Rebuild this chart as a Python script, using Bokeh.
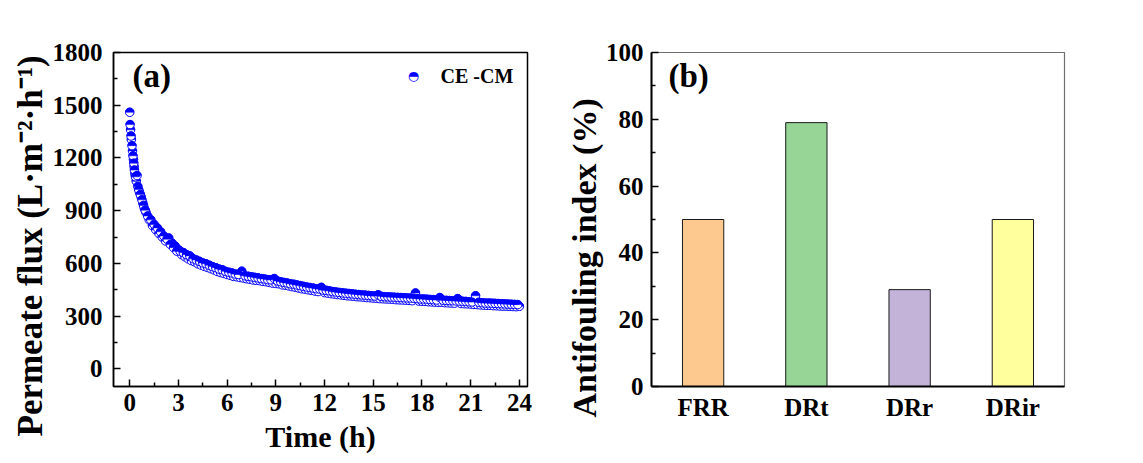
import numpy as np
from bokeh.plotting import figure
from bokeh.models import Range1d, FactorRange, FixedTicker, Label, ColumnDataSource, Title
from bokeh.layouts import row
from bokeh.embed import file_html
from bokeh.resources import INLINE

# ---------------- data: panel (a) permeate flux vs time ----------------
time_early_h = [0.00, 0.02, 0.05, 0.08, 0.10, 0.14, 0.17, 0.20, 0.23, 0.25, 0.27, 0.29, 0.32,
                0.35, 0.40, 0.45, 0.50, 0.55, 0.60, 0.65, 0.70, 0.75, 0.80, 0.85, 0.90, 0.95, 1.00]
flux_early = [1460, 1390, 1360, 1325, 1305, 1270, 1240, 1212, 1190, 1170, 1150, 1131, 1110,
              1093, 1068, 1100, 1038, 1020, 1005, 992, 979, 962, 945, 930, 912, 903, 890]

# t = 1.1 ... 24.0 h, every 0.1 h (one row per hour)
flux_late = [
    870, 848, 848, 815, 822, 792, 802, 770, 780, 750,
    756, 728, 738, 745, 708, 716, 690, 699, 670, 678,
    670, 650, 662, 638, 650, 626, 643, 616, 627, 609,
    620, 598, 612, 590, 603, 583, 598, 577, 590, 570,
    582, 563, 576, 554, 568, 548, 564, 543, 555, 537,
    550, 532, 546, 526, 540, 524, 537, 520, 556, 517,
    530, 513, 527, 510, 524, 506, 521, 504, 518, 502,
    514, 498, 512, 496, 508, 492, 507, 488, 514, 486,
    500, 484, 496, 478, 492, 476, 489, 472, 484, 468,
    482, 465, 478, 460, 474, 456, 470, 454, 466, 450,
    463, 447, 460, 443, 456, 440, 454, 464, 449, 434,
    447, 431, 444, 428, 440, 426, 438, 423, 435, 421,
    433, 419, 431, 416, 429, 415, 427, 413, 425, 411,
    423, 410, 421, 408, 420, 406, 418, 405, 416, 403,
    415, 402, 422, 400, 413, 399, 411, 398, 410, 397,
    409, 396, 408, 394, 407, 393, 406, 392, 405, 391,
    404, 390, 403, 388, 402, 432, 400, 386, 398, 385,
    398, 384, 397, 382, 395, 381, 394, 380, 392, 379,
    406, 379, 391, 377, 390, 376, 389, 375, 388, 374,
    387, 400, 386, 372, 385, 371, 384, 370, 382, 369,
    381, 367, 416, 366, 379, 364, 377, 363, 375, 362,
    375, 362, 374, 360, 373, 359, 372, 358, 371, 357,
    370, 357, 369, 356, 368, 355, 367, 354, 366, 356,
]
time_late_h = [round(1.1 + 0.1 * i, 2) for i in range(len(flux_late))]

series_name = "CE -CM"
x_title_a = "Time (h)"
y_title_a = "Permeate flux (L·m⁻²·h⁻¹)"
x_ticks_a = [0, 3, 6, 9, 12, 15, 18, 21, 24]
y_ticks_a = [0, 300, 600, 900, 1200, 1500, 1800]

# ---------------- data: panel (b) antifouling indices ----------------
categories = ["FRR", "DRt", "DRr", "DRir"]
index_values = [50, 79, 29, 50]
bar_colors = ["#fdc98e", "#96d596", "#c3b3d8", "#ffff9e"]
y_title_b = "Antifouling index (%)"
y_ticks_b = [0, 20, 40, 60, 80, 100]

FONT = "Liberation Serif"
BLUE = "#0000ff"
TICK_FS = "25px"
XLABEL_FS = "30px"


def style_axis(ax, width=1.5):
    ax.major_tick_in = 7
    ax.major_tick_out = 0
    ax.minor_tick_in = 4
    ax.minor_tick_out = 0
    ax.axis_line_width = width
    ax.axis_line_color = "black"
    ax.major_tick_line_width = 1.5
    ax.minor_tick_line_width = 1.5
    ax.major_tick_line_color = "black"
    ax.minor_tick_line_color = "black"
    ax.major_label_text_font = FONT
    ax.major_label_text_font_style = "bold"
    ax.major_label_text_font_size = TICK_FS
    ax.major_label_text_color = "black"
    ax.axis_label_text_font = FONT
    ax.axis_label_text_font_style = "bold"
    ax.axis_label_text_color = "black"


def text_label(x, y, text, size, font=FONT, color="black", align="left", bold=True):
    return Label(x=x, y=y, x_units="screen", y_units="screen", text=text,
                 text_font=font, text_font_style="bold" if bold else "normal",
                 text_font_size=size, text_baseline="middle", text_align=align,
                 text_color=color)


def side_title(text, offset, size):
    # vertical axis title, starting a little below the frame bottom like the original
    return Title(text=text, align="left", offset=offset, standoff=0,
                 text_font=FONT, text_font_style="bold", text_font_size=size,
                 text_color="black")


# ================= panel (a) =================
t_all = time_early_h + time_late_h
f_all = flux_early + flux_late
# two interleaved layers so later markers' white lower halves overlap earlier ones
src_even = ColumnDataSource(dict(t=t_all[0::2], f=f_all[0::2]))
src_odd = ColumnDataSource(dict(t=t_all[1::2], f=f_all[1::2]))

p1 = figure(frame_width=414, frame_height=334,
            min_border_left=113, min_border_right=34, min_border_top=52, min_border_bottom=77,
            x_range=Range1d(-1, 24.5), y_range=Range1d(-100, 1800),
            output_backend="svg", toolbar_location=None)
p1.grid.visible = False
p1.outline_line_color = "black"
p1.outline_line_width = 1.5
p1.background_fill_color = "white"
p1.border_fill_color = "white"

for s in (src_even, src_odd):
    p1.scatter("t", "f", source=s, size=8.5, marker="circle",
               fill_color="white", line_color=BLUE, line_width=1)
    p1.wedge("t", "f", source=s, radius=4.25, radius_units="screen",
             start_angle=0, end_angle=np.pi, fill_color=BLUE, line_color=BLUE, line_width=0.5)

p1.xaxis.ticker = FixedTicker(ticks=x_ticks_a,
                              minor_ticks=[v + 1.5 for v in x_ticks_a[:-1]])
p1.yaxis.ticker = FixedTicker(ticks=y_ticks_a,
                              minor_ticks=[v + 150 for v in y_ticks_a[:-1]])
style_axis(p1.xaxis[0])
style_axis(p1.yaxis[0])
p1.xaxis.axis_label = x_title_a
p1.xaxis.axis_label_text_font_size = XLABEL_FS
p1.xaxis.major_label_standoff = 7
p1.yaxis.major_label_standoff = 11
p1.xaxis.axis_label_standoff = 6
p1.add_layout(side_title(y_title_a, -50, "35px"), "left")

p1.add_layout(text_label(19, 311, "(a)", "33px"))
# legend key (half-filled circle) + label
p1.add_layout(text_label(300, 311, "◓", "13px", font="DejaVu Sans", color=BLUE,
                         align="center", bold=False))
p1.add_layout(text_label(327, 311, series_name, "20px"))

# ================= panel (b) =================
src_b = ColumnDataSource(dict(cat=categories, val=index_values, col=bar_colors))
p2 = figure(frame_width=413, frame_height=334,
            min_border_left=90, min_border_right=79, min_border_top=52, min_border_bottom=77,
            x_range=FactorRange(*categories, range_padding=0), y_range=Range1d(0, 100),
            output_backend="svg", toolbar_location=None)
p2.grid.visible = False
p2.outline_line_color = "#6e6e6e"
p2.outline_line_width = 1.2
p2.vbar(x="cat", top="val", width=0.4, source=src_b, fill_color="col",
        line_color="#1a1a1a", line_width=1)
p2.yaxis.ticker = FixedTicker(ticks=y_ticks_b,
                              minor_ticks=[v + 10 for v in y_ticks_b[:-1]])
style_axis(p2.xaxis[0], width=2)
style_axis(p2.yaxis[0], width=2)
p2.xaxis.major_tick_in = 0
p2.xaxis.minor_tick_in = 0
p2.xaxis.major_label_standoff = 7
p2.yaxis.major_label_standoff = 8
p2.add_layout(side_title(y_title_b, -31, "34px"), "left")
p2.add_layout(text_label(17, 311, "(b)", "33px"))

layout = row(p1, p2)
open("out.html", "w").write(file_html(layout, INLINE))
